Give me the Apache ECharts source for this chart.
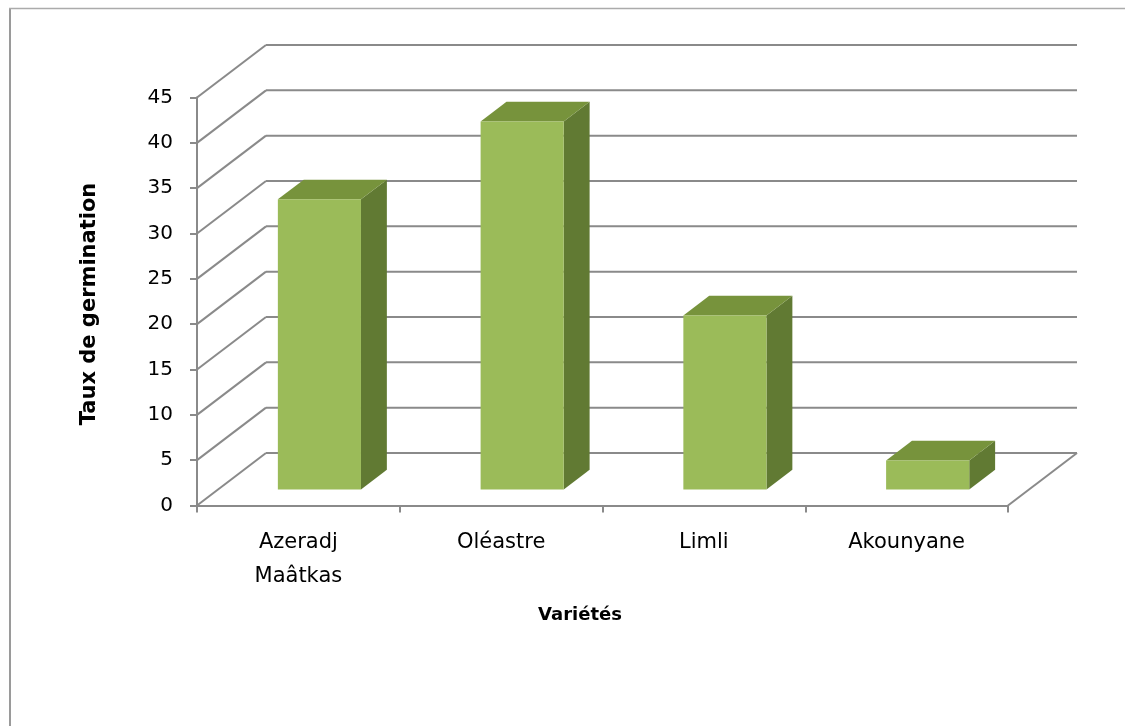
<!DOCTYPE html>
<html>
<head>
<meta charset="utf-8">
<script src="https://cdn.jsdelivr.net/npm/echarts@6/dist/echarts.min.js"></script>
<style>
html,body{margin:0;padding:0;background:#fff;}
#chart{width:1125px;height:726px;}
</style>
</head>
<body>
<div id="chart"></div>
<script>
// ---- data ----
const categories = ['Azeradj\nMaâtkas', 'Oléastre', 'Limli', 'Akounyane'];
const germinationRate = [32, 40.6, 19.2, 3.2];
const yTicks = [0, 5, 10, 15, 20, 25, 30, 35, 40, 45];
const yAxisTitle = 'Taux de germination';
const xAxisTitle = 'Variétés';

// ---- style constants ----
const DEPTH_X = 69, DEPTH_Y = -52.5;
const BAR_FRONT = 0.305, BAR_BACK = 0.68;
const BAR_WIDTH_RATIO = 0.41;
const GRID_COLOR = '#8a8a8a';
const FONT = 'DejaVu Sans';

const chart = echarts.init(document.getElementById('chart'));

function wallItem(params, api) {
  const cs = params.coordSys;
  const v = api.value(0);
  const y = api.coord([0, v])[1];
  const x0 = cs.x, x1 = cs.x + cs.width;
  const children = [
    { type: 'line', shape: { x1: x0, y1: y, x2: x0 + DEPTH_X, y2: y + DEPTH_Y },
      style: { stroke: GRID_COLOR, lineWidth: 2 } },
    { type: 'line', shape: { x1: x0 + DEPTH_X, y1: y + DEPTH_Y, x2: x1 + DEPTH_X, y2: y + DEPTH_Y },
      style: { stroke: GRID_COLOR, lineWidth: 2 } }
  ];
  if (v === 0) {
    children.push({ type: 'line', shape: { x1: x1, y1: y, x2: x1 + DEPTH_X, y2: y + DEPTH_Y },
      style: { stroke: GRID_COLOR, lineWidth: 2 } });
  }
  return { type: 'group', children: children };
}

function barItem(params, api) {
  const i = api.value(0), v = api.value(1);
  const base = api.coord([i, 0]);
  const top = api.coord([i, v]);
  const band = api.size([1, 0])[0];
  const w = band * BAR_WIDTH_RATIO;
  const fx = base[0] + BAR_FRONT * DEPTH_X;
  const fyB = base[1] + BAR_FRONT * DEPTH_Y;
  const fyT = top[1] + BAR_FRONT * DEPTH_Y;
  const xl = fx - w / 2, xr = fx + w / 2;
  const ddx = (BAR_BACK - BAR_FRONT) * DEPTH_X, ddy = (BAR_BACK - BAR_FRONT) * DEPTH_Y;
  return {
    type: 'group',
    children: [
      { type: 'polygon', shape: { points: [[xr, fyB], [xr, fyT], [xr + ddx, fyT + ddy], [xr + ddx, fyB + ddy]] },
        style: { fill: '#617A33' } },
      { type: 'polygon', shape: { points: [[xl, fyT], [xr, fyT], [xr + ddx, fyT + ddy], [xl + ddx, fyT + ddy]] },
        style: { fill: '#77933C' } },
      { type: 'rect', shape: { x: xl, y: fyT, width: w, height: fyB - fyT },
        style: { fill: '#9BBB59' } }
    ]
  };
}

chart.setOption({
  animation: false,
  backgroundColor: '#ffffff',
  grid: { left: 197, top: 97.5, right: 117, bottom: 220.5, containLabel: false },
  xAxis: {
    type: 'category',
    data: categories,
    boundaryGap: true,
    axisLine: { lineStyle: { color: GRID_COLOR, width: 2 } },
    axisTick: { show: true, length: 7, alignWithLabel: false, lineStyle: { color: GRID_COLOR, width: 2 } },
    axisLabel: { color: '#000', fontFamily: FONT, fontSize: 21, lineHeight: 34, margin: 20, interval: 0 },
    splitLine: { show: false }
  },
  yAxis: {
    type: 'value',
    min: 0, max: 45, interval: 5,
    axisLine: { show: true, lineStyle: { color: GRID_COLOR, width: 2 } },
    axisTick: { show: true, length: 7, lineStyle: { color: GRID_COLOR, width: 2 } },
    axisLabel: { color: '#000', fontFamily: FONT, fontSize: 20, margin: 24 },
    splitLine: { show: false }
  },
  graphic: [
    { type: 'line', shape: { x1: 10, y1: 8, x2: 10, y2: 726 }, style: { stroke: '#9a9a9a', lineWidth: 2 } },
    { type: 'line', shape: { x1: 9, y1: 8.5, x2: 1125, y2: 8.5 }, style: { stroke: '#ababab', lineWidth: 1.5 } },
    { type: 'text', x: 90, y: 304, rotation: Math.PI / 2,
      style: { text: yAxisTitle, font: 'bold 21px "DejaVu Sans"', fill: '#000', align: 'center', verticalAlign: 'middle' } },
    { type: 'text', x: 580, y: 615,
      style: { text: xAxisTitle, font: 'bold 18px "DejaVu Sans"', fill: '#000', align: 'center', verticalAlign: 'middle' } }
  ],
  series: [
    { type: 'custom', renderItem: wallItem, data: yTicks.map(v => [v]), encode: { y: 0 }, z: 1, silent: true },
    { type: 'custom', renderItem: barItem, data: germinationRate.map((v, i) => [i, v]), encode: { x: 0, y: 1 }, z: 2 }
  ]
});
</script>
</body>
</html>
